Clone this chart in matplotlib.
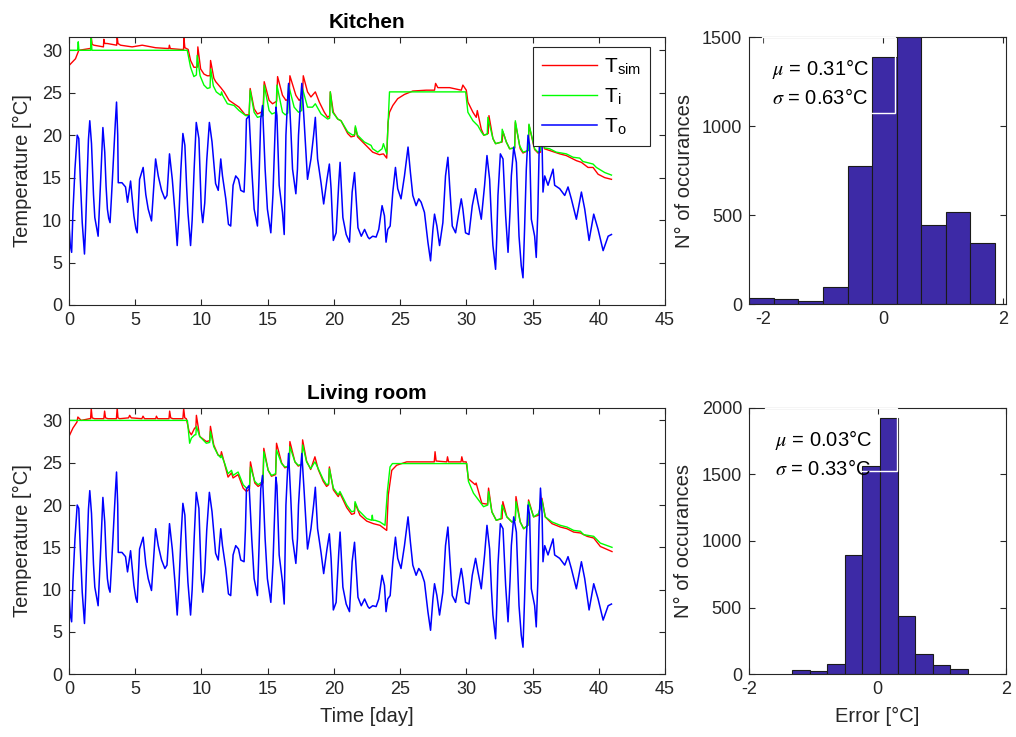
import numpy as np
import matplotlib
matplotlib.use("Agg")
import matplotlib.pyplot as plt
from matplotlib.patches import Rectangle

plt.rcParams['font.family'] = ['Liberation Sans', 'DejaVu Sans']
plt.rcParams['mathtext.fontset'] = 'stix'
plt.rcParams['axes.unicode_minus'] = False

# ---------------- data ----------------
to_day = [0.0, 0.1, 0.2, 0.3, 0.45, 0.62, 0.74, 0.85, 1.0, 1.1, 1.17, 1.25, 1.35, 1.47, 1.57, 1.7, 1.85, 1.95, 2.1,
          2.2, 2.3, 2.4, 2.56, 2.7, 2.8, 2.9, 3.0, 3.1, 3.2, 3.35, 3.5, 3.59, 3.68, 3.72, 4.0, 4.27, 4.42, 4.65,
          4.9, 5.05, 5.15, 5.33, 5.6, 5.8, 5.98, 6.23, 6.4, 6.54, 6.74, 6.99, 7.24, 7.4, 7.59, 7.8, 8.0, 8.17,
          8.3, 8.45, 8.6, 8.75, 8.88, 8.98, 9.18, 9.3, 9.45, 9.61, 9.81, 9.99, 10.1, 10.25, 10.4, 10.6, 10.8,
          11.07, 11.27, 11.46, 11.59, 11.84, 12.04, 12.21, 12.39, 12.59, 12.8, 12.97, 13.22, 13.32, 13.4, 13.6,
          13.8, 13.98, 14.23, 14.35, 14.48, 14.61, 14.81, 14.98, 15.24, 15.4, 15.55, 15.62, 15.7, 15.87, 16.12,
          16.25, 16.38, 16.5, 16.58, 16.75, 16.88, 17.13, 17.25, 17.33, 17.5, 17.58, 17.76, 18.01, 18.27, 18.47,
          18.6, 18.77, 19.03, 19.23, 19.48, 19.66, 19.79, 19.96, 20.17, 20.37, 20.47, 20.68, 20.93, 21.18, 21.38,
          21.56, 21.82, 22.07, 22.32, 22.57, 22.68, 22.93, 23.19, 23.39, 23.64, 23.82, 23.94, 24.07, 24.25, 24.45,
          24.65, 24.82, 25.07, 25.33, 25.6, 25.78, 25.96, 26.21, 26.41, 26.59, 26.84, 27.1, 27.3, 27.48,
          27.6, 27.78, 27.98, 28.23, 28.43, 28.61, 28.74, 28.94, 29.19, 29.44, 29.62, 29.74, 29.94, 30.2,
          30.45, 30.7, 30.88, 31.13, 31.38, 31.56, 31.76, 31.9, 32.01, 32.21, 32.3, 32.39, 32.57, 32.77, 32.97,
          33.15, 33.3, 33.4, 33.58, 33.78, 33.98, 34.15, 34.28, 34.4, 34.53, 34.66, 34.78, 34.91, 35.16, 35.28,
          35.4, 35.49, 35.6, 35.72, 35.79, 35.92, 36.17, 36.55, 36.67, 37.05, 37.43, 37.68, 37.93, 38.31, 38.69,
          38.94, 39.27, 39.62, 39.95, 40.33, 40.71, 40.96]
to_temp = [9.5, 7.0, 6.2, 11.0, 16.0, 20.0, 19.6, 15.0, 9.7, 7.5, 6.0, 9.0, 14.0, 19.5, 21.7, 19.0, 13.0, 10.3, 9.0,
           8.1, 11.5, 15.0, 20.9, 18.0, 14.0, 11.3, 10.2, 9.7, 12.5, 17.0, 21.5, 23.9, 20.0, 14.4, 14.4, 13.9, 12.1,
           14.6, 10.5, 9.0, 8.5, 14.8, 16.2, 13.0, 11.3, 9.9, 14.0, 17.2, 15.2, 13.5, 12.5, 12.9, 17.8, 14.8, 10.9,
           7.0, 10.5, 16.0, 20.2, 18.8, 14.0, 10.9, 7.0, 10.0, 16.0, 21.5, 19.6, 11.3, 9.7, 12.0, 17.0, 21.5, 19.2,
           14.3, 13.5, 17.2, 15.2, 12.5, 9.5, 9.3, 14.1, 15.2, 14.8, 13.5, 13.3, 17.0, 21.9, 22.3,
           16.0, 11.3, 9.3, 15.0, 21.9, 23.5, 16.0, 11.3, 8.5, 13.0, 20.0, 23.3, 22.3, 14.1, 10.9,
           8.3, 20.0, 24.0, 26.1, 20.7, 16.0, 13.1, 16.0, 20.0, 24.5, 26.1, 21.5, 14.8, 17.2, 20.0,
           22.1, 17.2, 14.4, 11.9, 14.8, 16.6, 13.7, 7.6, 8.5, 14.4, 16.8, 10.3, 8.3, 7.4, 13.3,
           15.6, 9.1, 8.1, 8.9, 8.0, 7.8, 8.1, 8.0, 8.9, 11.7, 10.5, 7.4, 8.9, 9.3, 13.3,
           16.2, 13.7, 12.5, 15.2, 18.6, 15.6, 12.9, 11.7, 12.5, 12.1, 10.9, 7.4, 5.2, 8.9,
           10.7, 9.3, 7.0, 9.7, 15.2, 17.4, 14.1, 9.3, 8.5, 10.9, 12.5, 11.3, 8.5, 8.3,
           11.7, 13.7, 12.1, 10.1, 14.1, 17.6, 14.8, 10.0, 7.0, 4.2, 8.0, 12.9, 17.8, 17.2, 10.5,
           6.2, 11.0, 15.2, 18.6, 16.8, 8.1, 4.6, 3.2, 9.0, 16.0, 20.0, 18.8, 10.1, 8.1, 5.6,
           11.0, 17.6, 22.0, 19.0, 13.3, 15.2, 14.1, 16.0, 14.1, 13.7, 12.9, 13.9, 12.5, 10.1, 13.3,
           11.3, 7.6, 10.7, 8.9, 6.4, 8.1, 8.3]

kit_ti_day = [0.0, 0.65, 0.7, 0.75, 1.63, 1.68, 1.73, 8.93, 9.18, 9.43, 9.62, 9.68, 9.9, 10.19, 10.45, 10.65,
              10.7, 10.9, 11.12, 11.46, 11.52, 11.6, 11.96, 12.46, 12.84, 13.35, 13.6, 13.68, 13.98, 14.23,
              14.66, 14.74, 15.11, 15.32, 15.63, 15.7, 16.12, 16.33, 16.52, 16.58, 17.0, 17.33, 17.57, 17.63,
              18.01, 18.39, 18.6, 19.03, 19.53, 19.68, 19.73, 19.91, 20.29, 20.54, 21.04, 21.42, 21.58,
              21.62, 21.79, 22.3, 22.81, 22.93, 23.31, 23.64, 23.74, 23.99, 24.2, 29.95, 30.12, 30.5, 30.88,
              31.13, 31.31, 31.58, 31.63, 32.01, 32.21, 32.66, 32.71, 33.02, 33.27, 33.65, 33.7, 34.02,
              34.28, 34.68, 34.73, 35.16, 35.41, 35.6, 35.65, 35.9, 36.29, 36.8, 37.55, 38.06, 38.56,
              38.81, 39.57, 39.82, 40.45, 40.96]
kit_ti = [30.0, 30.0, 31.0, 30.0, 30.0, 31.4, 30.0, 30.0, 28.0, 26.9, 27.1, 29.4, 27.0, 25.9, 25.5, 25.6,
          27.8, 25.8, 25.1, 24.7, 25.1, 24.7, 23.7, 23.5, 22.9, 22.3, 22.3, 25.3, 22.7, 22.1,
          22.3, 25.9, 22.9, 22.5, 22.7, 25.9, 22.7, 22.4, 22.6, 25.9, 23.3, 22.7, 22.9, 25.5,
          23.3, 23.3, 23.7, 22.5, 21.9, 22.0, 25.1, 22.7, 21.9, 21.7, 20.4, 20.0, 20.1,
          21.1, 20.0, 19.2, 18.8, 18.4, 18.0, 18.4, 19.0, 17.8, 25.1, 25.1, 22.7, 21.7, 21.1,
          20.4, 20.0, 20.1, 22.1, 19.6, 19.0, 19.2, 20.7, 19.2, 18.4, 18.5, 21.7, 18.8,
          18.0, 18.2, 21.3, 18.4, 18.0, 18.2, 20.5, 18.5, 18.4, 18.0, 17.8, 17.4, 17.3,
          16.9, 16.6, 16.2, 15.6, 15.3]

kit_sim_day = [0.0, 0.49, 0.74, 1.55, 1.63, 1.68, 1.75, 1.88, 2.6, 2.63, 2.7, 2.88, 3.6, 3.64, 3.7, 3.89, 4.77,
               5.53, 6.54, 7.54, 7.58, 7.65, 8.43, 8.65, 8.68, 8.75, 9.0, 9.18, 9.43, 9.68, 9.73, 9.94,
               10.19, 10.44, 10.65, 10.69, 10.94, 11.08, 11.46, 11.71, 12.09, 12.46, 12.84, 13.3, 13.6,
               13.68, 13.98, 14.23, 14.65, 14.74, 15.11, 15.37, 15.68, 15.75, 16.12, 16.38, 16.62, 16.68,
               17.13, 17.38, 17.63, 17.69, 18.01, 18.27, 18.6, 18.9, 19.28, 19.53, 19.68, 19.73, 19.96,
               20.29, 20.54, 21.04, 21.29, 21.55, 21.62, 21.79, 22.3, 22.81, 22.93, 23.44, 23.74, 23.99,
               24.09, 24.2, 24.45, 24.82, 25.33, 25.96, 26.97, 27.6, 27.68, 27.85, 28.74, 29.62, 29.74,
               30.0, 30.12, 30.5, 30.75, 30.83, 31.13, 31.33, 31.65, 31.71, 32.01, 32.21, 32.7, 32.77,
               33.02, 33.27, 33.65, 33.7, 34.07, 34.28, 34.68, 34.73, 35.16, 35.41, 35.6, 35.65, 35.9,
               36.29, 37.05, 37.55, 38.31, 38.69, 39.19, 39.57, 39.95, 40.45, 40.96]
kit_sim = [28.2, 29.0, 30.0, 30.2, 30.2, 31.6, 30.7, 30.6, 30.4, 31.3, 30.8, 30.8, 30.6, 31.6, 30.8, 30.6, 30.4,
           30.6, 30.3, 30.2, 30.6, 30.2, 30.1, 30.1, 31.4, 30.3, 30.1, 28.8, 28.0, 28.0, 30.4, 27.8,
           27.2, 27.0, 27.0, 28.8, 26.7, 26.3, 25.6, 25.1, 24.1, 23.7, 23.3, 22.4, 22.4,
           25.5, 23.1, 22.5, 22.8, 26.3, 24.1, 23.7, 24.0, 26.9, 24.7, 24.1, 24.3, 27.0,
           24.7, 24.1, 24.5, 27.0, 25.1, 24.5, 25.1, 23.9, 22.7, 22.1, 22.3, 25.1, 22.7,
           21.9, 21.7, 20.2, 19.8, 19.9, 20.9, 19.8, 19.0, 18.2, 18.0, 17.7, 17.8, 17.3,
           21.5, 22.7, 23.5, 24.3, 24.8, 25.2, 25.3, 25.3, 26.1, 25.6, 25.6, 25.3, 25.9,
           25.3, 23.9, 22.7, 22.1, 22.9, 20.7, 20.0, 20.2, 22.3, 19.6, 19.0, 19.2, 20.4,
           19.2, 18.4, 18.5, 21.5, 18.4, 17.9, 18.2, 21.2, 18.3, 17.9, 18.0, 20.3, 18.4,
           18.2, 17.8, 17.6, 17.0, 16.8, 16.2, 16.2, 15.4, 15.0, 14.8]

liv_ti_day = [0.0, 8.94, 9.11, 9.24, 9.5, 9.58, 9.62, 9.87, 10.37, 10.62, 10.68, 10.93, 11.26, 11.46, 11.51,
              11.76, 12.01, 12.27, 12.39, 12.77, 13.15, 13.4, 13.63, 13.7, 14.03, 14.28, 14.65, 14.71, 15.04,
              15.29, 15.6, 15.67, 16.05, 16.3, 16.62, 16.68, 17.06, 17.31, 17.58, 17.64, 17.94, 18.25,
              18.57, 18.82, 19.2, 19.45, 19.6, 19.66, 19.96, 20.33, 20.46, 20.97, 21.34, 21.55, 21.6,
              21.85, 22.35, 22.48, 22.85, 22.9, 22.95, 23.1, 23.48, 23.86, 24.04, 24.24, 24.42, 30.04,
              30.16, 30.54, 30.92, 31.3, 31.62, 31.68, 31.93, 32.26, 32.62, 32.69, 33.06, 33.44, 33.7,
              33.75, 34.07, 34.33, 34.65, 34.7, 35.08, 35.46, 35.71, 35.96, 36.47, 37.1, 37.6, 38.11,
              38.61, 38.86, 39.62, 40.12, 41.0]
liv_ti = [30.0, 30.0, 27.3, 27.9, 28.3, 28.3, 29.3, 28.1, 27.3, 27.4, 28.7, 26.9, 25.9, 25.6, 25.9,
          24.9, 23.7, 24.1, 23.5, 23.9, 22.4, 22.0, 22.2, 24.5, 22.8, 22.4, 22.8, 26.3, 24.1,
          23.5, 23.7, 26.5, 24.9, 24.5, 24.6, 26.9, 25.1, 24.7, 24.8, 27.1, 25.1, 24.3,
          25.1, 24.3, 23.0, 22.4, 22.5, 24.3, 22.0, 21.2, 21.6, 20.0, 19.2, 19.3, 20.4,
          19.4, 18.6, 18.4, 18.2, 18.8, 18.2, 18.2, 18.0, 17.6, 21.6, 24.5, 24.9, 24.9,
          22.8, 21.4, 20.6, 19.8, 20.0, 21.6, 19.2, 18.2, 18.4, 20.0, 18.6, 18.0, 18.2,
          20.4, 18.0, 17.2, 17.6, 20.4, 18.6, 19.0, 20.6, 18.6, 18.0, 17.6, 17.4, 17.0,
          16.9, 16.5, 16.3, 15.5, 15.0]

liv_sim_day = [0.0, 0.3, 0.6, 0.67, 0.92, 1.55, 1.63, 1.68, 1.75, 1.93, 2.63, 2.69, 2.76, 2.94, 3.58, 3.64, 3.7,
               3.82, 4.5, 4.58, 4.7, 5.5, 5.59, 5.7, 6.55, 6.6, 6.7, 7.55, 7.6, 7.68, 7.85, 8.6, 8.66, 8.74,
               8.86, 9.07, 9.24, 9.49, 9.58, 9.62, 9.87, 10.37, 10.62, 10.68, 10.93, 11.26, 11.46, 11.51,
               11.76, 12.01, 12.27, 12.39, 12.77, 13.15, 13.4, 13.63, 13.7, 14.03, 14.28, 14.65, 14.71,
               15.04, 15.29, 15.6, 15.67, 16.05, 16.3, 16.62, 16.68, 17.06, 17.31, 17.58, 17.64, 17.94,
               18.25, 18.57, 18.82, 19.2, 19.45, 19.6, 19.66, 19.96, 20.33, 20.46, 20.97, 21.34, 21.55,
               21.6, 21.97, 22.48, 22.98, 23.48, 23.99, 24.11, 24.37, 24.74, 25.5, 27.58, 27.64, 27.72,
               28.52, 28.58, 28.66, 29.6, 29.66, 29.75, 29.99, 30.16, 30.67, 30.74, 31.17, 31.6, 31.68,
               31.93, 32.26, 32.7, 32.76, 33.06, 33.44, 33.7, 33.75, 34.07, 34.33, 34.65, 34.7, 35.08,
               35.46, 35.71, 35.96, 36.47, 37.1, 37.6, 38.11, 38.61, 39.12, 39.62, 40.12, 41.0]
liv_sim = [28.1, 29.1, 29.8, 30.4, 30.0, 30.2, 30.2, 31.4, 30.3, 30.2, 30.2, 31.1, 30.3, 30.2, 30.2, 31.5, 30.3,
           30.2, 30.3, 30.6, 30.3, 30.2, 30.5, 30.2, 30.2, 30.5, 30.2, 30.2, 31.1, 30.3, 30.2, 30.2, 31.4, 30.3,
           30.2, 28.7, 28.3, 29.1, 29.1, 30.6, 28.1, 27.5, 27.6, 29.3, 27.1, 25.9, 25.8, 26.3,
           24.8, 23.3, 23.8, 23.2, 23.6, 22.0, 21.6, 21.9, 25.1, 22.6, 22.2, 22.6, 26.7,
           24.1, 23.4, 23.6, 27.3, 25.0, 24.4, 24.6, 27.5, 25.1, 24.6, 24.8, 27.7, 25.2,
           24.2, 25.7, 24.2, 22.8, 22.2, 22.4, 24.5, 21.8, 21.0, 21.4, 19.7, 18.9, 19.0,
           20.2, 18.8, 18.1, 17.8, 17.6, 17.0, 21.2, 24.1, 24.7, 25.1, 25.1, 26.3, 25.2,
           25.1, 25.7, 25.1, 25.1, 25.7, 25.1, 25.1, 23.1, 22.4, 22.6, 20.2, 20.1, 22.0,
           19.2, 18.2, 18.4, 20.4, 18.6, 18.0, 18.2, 21.0, 18.0, 17.2, 17.6, 20.6, 18.6,
           18.8, 20.8, 18.6, 17.8, 17.4, 17.2, 16.8, 16.7, 16.3, 16.1, 15.1, 14.5]

kit_edges = [-2.233, -1.823, -1.413, -1.003, -0.593, -0.183, 0.227, 0.637, 1.047, 1.457, 1.867]
kit_counts = [34, 28, 19, 96, 780, 1388, 1504, 445, 517, 344]
liv_edges = [-1.331, -1.057, -0.783, -0.509, -0.235, 0.039, 0.313, 0.587, 0.861, 1.135, 1.409]
liv_counts = [30, 25, 75, 895, 1562, 1920, 435, 155, 70, 40]

kit_mu, kit_sigma = 0.31, 0.63
liv_mu, liv_sigma = 0.03, 0.33

time_ticks = [0, 5, 10, 15, 20, 25, 30, 35, 40, 45]
temp_ticks = [0, 5, 10, 15, 20, 25, 30]

# ---------------- figure ----------------
fig = plt.figure(figsize=(10.16, 7.37), dpi=100)
tc = '#262626'
ax_tt = fig.add_axes([0.0679, 0.5862, 0.5866, 0.364])
ax_tb = fig.add_axes([0.0679, 0.0851, 0.5866, 0.3617])
ax_ht = fig.add_axes([0.7375, 0.5871, 0.2527, 0.3631])
ax_hb = fig.add_axes([0.7372, 0.0851, 0.2530, 0.3617])

def style(ax):
    ax.tick_params(direction='in', top=True, right=True, length=4, width=0.8,
                   labelsize=13, colors=tc, pad=5)
    for s in ax.spines.values():
        s.set_color(tc)
        s.set_linewidth(0.8)

for ax, ti_d, ti_v, sim_d, sim_v, title in [
        (ax_tt, kit_ti_day, kit_ti, kit_sim_day, kit_sim, 'Kitchen'),
        (ax_tb, liv_ti_day, liv_ti, liv_sim_day, liv_sim, 'Living room')]:
    ax.plot(sim_d, sim_v, color='#ff0000', lw=1.0, label=r'T$_\mathregular{sim}$')
    ax.plot(ti_d, ti_v, color='#00ff00', lw=1.0, label=r'T$_\mathregular{i}$')
    ax.plot(to_day, to_temp, color='#0000ff', lw=1.1, label=r'T$_\mathregular{o}$')
    ax.set_xlim(0, 45)
    ax.set_ylim(0, max(max(sim_v), max(ti_v)))
    ax.set_xticks(time_ticks)
    ax.set_yticks(temp_ticks)
    ax.set_ylabel('Temperature [°C]', fontsize=14.5, color=tc, labelpad=7)
    ax.set_title(title, fontsize=15, fontweight='bold', color='black', pad=6)
    style(ax)

ax_tb.set_xlabel('Time [day]', fontsize=14.5, color=tc, labelpad=6)

leg = ax_tt.legend(loc='upper right', bbox_to_anchor=(0.975, 0.962), borderaxespad=0.0,
                   fontsize=15, frameon=True, fancybox=False, edgecolor=tc, framealpha=1,
                   handlelength=2.6, labelspacing=0.45, borderpad=0.45, handletextpad=0.35)
leg.get_frame().set_linewidth(0.8)

bar_c = '#3d2aa6'
for ax, edges, counts, mu, sig, xl, ymax, yt, box in [
        (ax_ht, kit_edges, kit_counts, kit_mu, kit_sigma, (-2.233, 2.05), max(kit_counts),
         [0, 500, 1000, 1500], (0.05, 0.715, 0.568)),
        (ax_hb, liv_edges, liv_counts, liv_mu, liv_sigma, (-2, 2), 2000,
         [0, 500, 1000, 1500, 2000], (0.062, 0.763, 0.576))]:
    e = np.array(edges)
    ax.bar(e[:-1], counts, width=np.diff(e), align='edge', color=bar_c,
           edgecolor='#1a1a1a', linewidth=0.8, zorder=2)
    ax.set_xlim(*xl)
    ax.set_ylim(0, ymax)
    ax.set_xticks([-2, 0, 2])
    ax.set_yticks(yt)
    ax.set_ylabel('N° of occurances', fontsize=14.5, color=tc, labelpad=6)
    style(ax)
    x0, y0, x1 = box
    ax.add_patch(Rectangle((x0, y0), x1 - x0, 1.0 - y0, transform=ax.transAxes,
                           fill=False, edgecolor='white', lw=1.0, zorder=5, clip_on=False))
    ax.text(x0 + 0.038, 0.88, r'$\mu$ = %.2f°C' % mu, transform=ax.transAxes,
            fontsize=14.5, color='black', va='center', ha='left', zorder=6)
    ax.text(x0 + 0.038, 0.77, r'$\sigma$ = %.2f°C' % sig, transform=ax.transAxes,
            fontsize=14.5, color='black', va='center', ha='left', zorder=6)

ax_hb.set_xlabel('Error [°C]', fontsize=14.5, color=tc, labelpad=6)

fig.savefig('out.png', dpi=100)
